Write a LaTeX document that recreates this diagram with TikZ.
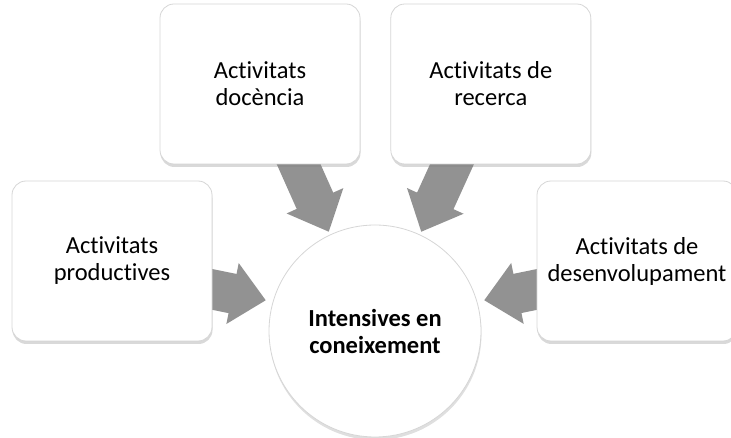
\documentclass[tikz,border=0pt]{standalone}
\usepackage{fontspec}
\setmainfont{Carlito}[Ligatures=NoCommon]
\usepackage{tikz}
\usetikzlibrary{arrows.meta, positioning, calc, backgrounds, shadows}
\usepackage{xcolor}
\definecolor{arrowgray}{HTML}{929292}
\definecolor{rimgray}{HTML}{D6D6D6}

\tikzset{
  actbox/.style={draw=rimgray, fill=white, rounded corners=14pt, line width=0.8pt,
    minimum width=200pt, minimum height=160pt, align=center,
    font=\fontsize{24.5}{27}\selectfont,
    drop shadow={shadow xshift=0.5pt, shadow yshift=-3pt, opacity=0.3}},
  hubcircle/.style={circle, draw=rimgray, fill=white, line width=0.8pt,
    minimum size=212pt, inner sep=0pt, align=center,
    font=\fontsize{24.5}{27}\selectfont\bfseries,
    drop shadow={shadow xshift=0.5pt, shadow yshift=-3pt, opacity=0.25}},
  blockarrow/.style={draw=arrowgray, line width=40pt,
    -{Triangle[width=60pt, length=34pt]}}
}

\begin{document}
\begin{tikzpicture}[x=1pt, y=-1pt]
  \useasboundingbox (0,0) rectangle (731,438);

  % the four kinds of activity
  \node[actbox] (doc) at (260,84) {Activitats\\docència};
  \node[actbox, right=30pt of doc] (rec) {Activitats de\\recerca};
  \node[actbox] (prod) at (112,261) {Activitats\\productives};
  \node[actbox] (dev) at (637,261) {Activitats de\\desenvolupament};

  % centre
  \node[hubcircle] (hub) at (375,331) {Intensives en\\coneixement};

  % arrows into the centre
  \begin{scope}[on background layer]
    \draw[blockarrow, shorten >=3pt] ([xshift=28pt, yshift=24pt]doc.south) -- (hub.115);
    \draw[blockarrow, shorten >=3pt] ([xshift=-28pt, yshift=24pt]rec.south) -- (hub.65);
    \draw[blockarrow, shorten >=7pt] ([xshift=-22pt, yshift=-24pt]prod.east) -- (hub.164);
    \draw[blockarrow, shorten >=7pt] ([xshift=22pt, yshift=-24pt]dev.west) -- (hub.16);
  \end{scope}
\end{tikzpicture}
\end{document}
